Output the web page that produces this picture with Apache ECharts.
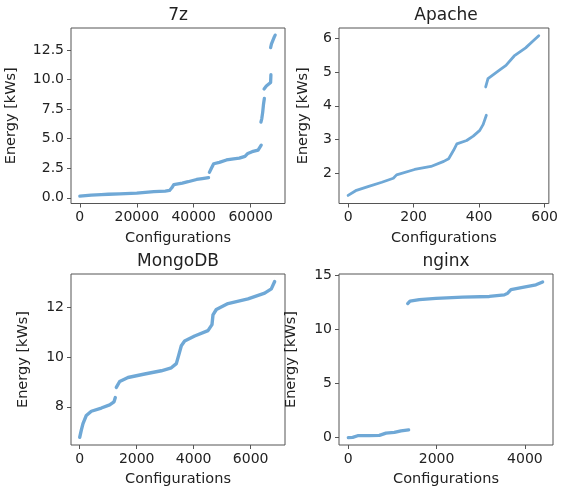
<!DOCTYPE html>
<html>
<head>
<meta charset="utf-8">
<script src="https://cdn.jsdelivr.net/npm/echarts@6/dist/echarts.min.js"></script>
<style>
  html, body { margin: 0; padding: 0; background: #fff; }
  #chart { width: 561px; height: 488px; }
</style>
</head>
<body>
<div id="chart"></div>
<script>
// panel titles
var titles = ['7z', 'Apache', 'MongoDB', 'nginx'];

// 7z: sorted energy per configuration, split where the curve jumps
var sevenZipSegs = [
  [[0, 0.14], [2000, 0.18], [4000, 0.22], [7500, 0.27], [10000, 0.30], [14000, 0.33], [20000, 0.40],
   [23000, 0.46], [26000, 0.52], [30000, 0.57], [31500, 0.62], [32300, 0.85], [33000, 1.12],
   [36000, 1.25], [38000, 1.36], [41000, 1.55], [43000, 1.62], [45200, 1.70]],
  [[45500, 2.15], [46200, 2.5], [47000, 2.88], [49000, 3.0], [51500, 3.2], [54000, 3.3],
   [56000, 3.35], [58000, 3.5], [59000, 3.75], [60500, 3.9], [62600, 4.03], [63300, 4.1], [63700, 4.45]],
  [[63600, 6.4], [63900, 6.7], [64200, 7.2], [64500, 7.9], [64800, 8.4]],
  [[64700, 9.2], [65500, 9.45], [66200, 9.55], [67000, 9.75], [67100, 10.4]],
  [[67000, 12.7], [67300, 13.0], [67800, 13.3], [68300, 13.6], [68600, 13.75]]
];

var apacheSegs = [
  [[0, 1.34], [23, 1.48], [63, 1.61], [103, 1.73], [138, 1.85], [148, 1.95], [203, 2.11],
   [253, 2.2], [292, 2.35], [307, 2.43], [322, 2.68], [332, 2.87], [362, 2.97], [382, 3.1],
   [402, 3.27], [412, 3.44], [422, 3.72]],
  [[420, 4.56], [427, 4.81], [462, 5.06], [482, 5.2], [507, 5.48], [542, 5.72], [562, 5.9], [582, 6.08]]
];

var mongoSegs = [
  [[0, 6.77], [57, 7.06], [116, 7.32], [233, 7.65], [408, 7.82], [759, 7.95], [1052, 8.08],
   [1204, 8.2], [1250, 8.37]],
  [[1285, 8.78], [1403, 9.02], [1695, 9.18], [2280, 9.32], [2864, 9.45], [3215, 9.57], [3391, 9.74],
   [3473, 10.07], [3566, 10.46], [3683, 10.65], [4034, 10.85], [4502, 11.07], [4642, 11.31],
   [4677, 11.7], [4794, 11.92], [5204, 12.16], [5906, 12.35], [6491, 12.58], [6724, 12.75], [6841, 13.05]]
];

var nginxSegs = [
  [[0, 0.0], [99, 0.03], [212, 0.18], [476, 0.18], [703, 0.21], [854, 0.42], [1043, 0.48],
   [1194, 0.63], [1367, 0.72]],
  [[1345, 12.4], [1398, 12.64], [1609, 12.76], [1986, 12.88], [2590, 13.0], [3194, 13.06],
   [3534, 13.21], [3610, 13.36], [3685, 13.69], [3949, 13.9], [4251, 14.14], [4402, 14.41]]
];

// tick labels
var xTicks = [[0, 20000, 40000, 60000], [0, 200, 400, 600], [0, 2000, 4000, 6000], [0, 2000, 4000]];
var yTicks = [[0, 2.5, 5, 7.5, 10, 12.5], [2, 3, 4, 5, 6], [8, 10, 12], [0, 5, 10, 15]];

var chart = echarts.init(document.getElementById('chart'));
var font = 'DejaVu Sans';
var ink = '#222';
var frame = '#555';
var dotColor = '#6fa8d6';

var panels = [
  { left: 71, top: 28, xMin: -3100, xMax: 72050, yMin: -0.48, yMax: 14.35, yGap: 52, yDec: 1, segs: sevenZipSegs, w: 3.3 },
  { left: 339, top: 28, xMin: -27.8, xMax: 612.9, yMin: 1.10, yMax: 6.31, yGap: 28, yDec: 0, segs: apacheSegs, w: 2.8 },
  { left: 71, top: 274, xMin: -305, xMax: 7204, yMin: 6.46, yMax: 13.35, yGap: 40, yDec: 0, segs: mongoSegs, w: 3.4 },
  { left: 339, top: 274, xMin: -211, xMax: 4637, yMin: -0.68, yMax: 15.14, yGap: 40, yDec: 0, segs: nginxSegs, w: 3.3 }
];

var grids = [], xAxes = [], yAxes = [], series = [], titleList = [];
panels.forEach(function (p, i) {
  grids.push({
    left: p.left, top: p.top, width: 214, height: 175.5,
    show: true, borderColor: frame, borderWidth: 1, backgroundColor: 'transparent'
  });
  titleList.push({
    text: titles[i], left: p.left + 107, top: p.top - 21, textAlign: 'center', padding: 0,
    textStyle: { fontFamily: font, fontSize: 17, fontWeight: 'normal', color: ink }
  });
  xAxes.push({
    type: 'value', gridIndex: i, min: p.xMin, max: p.xMax,
    name: 'Configurations', nameLocation: 'middle', nameGap: 27,
    nameTextStyle: { fontFamily: font, fontSize: 14.5, color: ink },
    axisLine: { show: false, onZero: false },
    axisTick: { show: true, customValues: xTicks[i], length: 4, lineStyle: { color: frame } },
    axisLabel: {
      customValues: xTicks[i], margin: 7, fontFamily: font, fontSize: 14, color: ink,
      formatter: function (v) { return String(v); }
    },
    splitLine: { show: false }
  });
  yAxes.push({
    type: 'value', gridIndex: i, min: p.yMin, max: p.yMax,
    name: 'Energy [kWs]', nameLocation: 'middle', nameGap: p.yGap,
    nameTextStyle: { fontFamily: font, fontSize: 14.5, color: ink },
    axisLine: { show: false, onZero: false },
    axisTick: { show: true, customValues: yTicks[i], length: 4, lineStyle: { color: frame } },
    axisLabel: {
      customValues: yTicks[i], margin: 7, fontFamily: font, fontSize: 14, color: ink,
      formatter: function (v) { return v.toFixed(p.yDec); }
    },
    splitLine: { show: false }
  });
  p.segs.forEach(function (seg) {
    series.push({
      type: 'line', xAxisIndex: i, yAxisIndex: i, data: seg,
      showSymbol: false, silent: true, animation: false,
      lineStyle: { color: dotColor, width: p.w, cap: 'round', join: 'round' }
    });
  });
});

chart.setOption({
  backgroundColor: '#fff',
  animation: false,
  title: titleList,
  grid: grids,
  xAxis: xAxes,
  yAxis: yAxes,
  series: series
});
</script>
</body>
</html>
